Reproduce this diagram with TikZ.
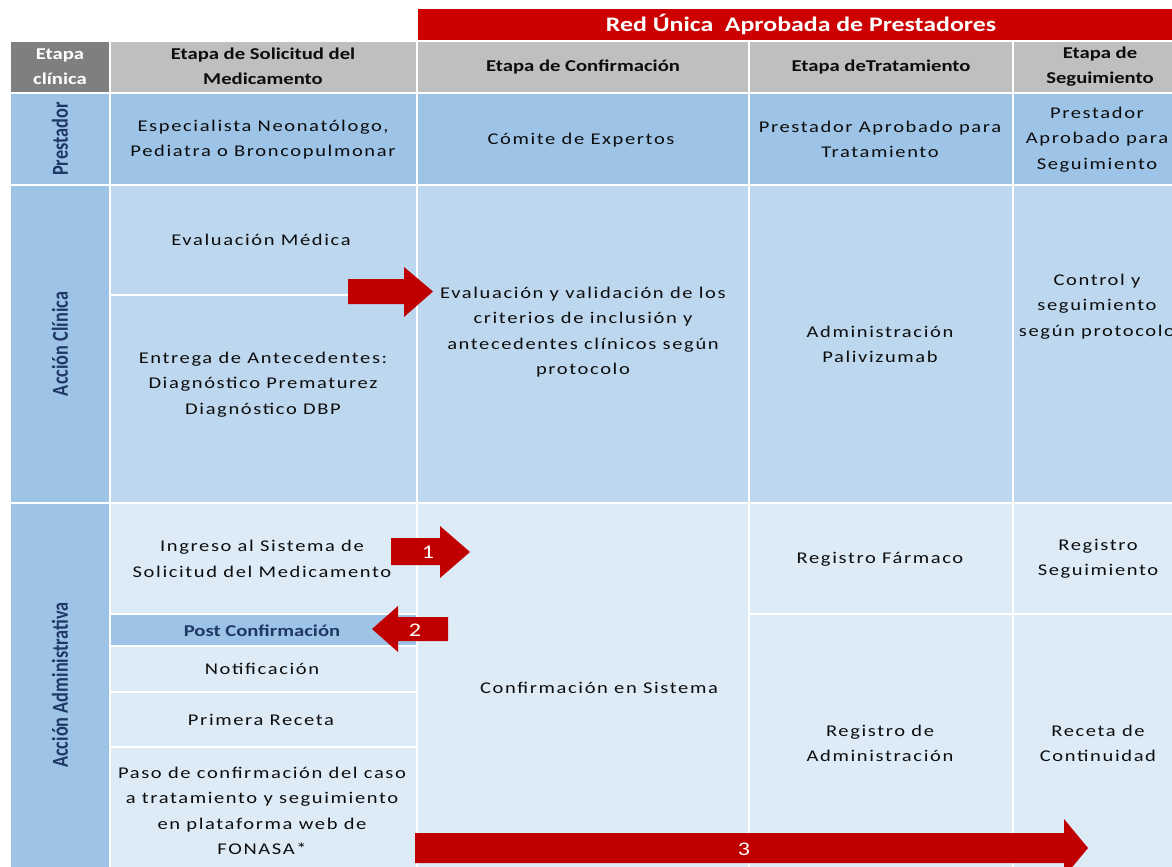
\documentclass[tikz,border=0pt]{standalone}
\usepackage{fontspec}
\setmainfont{Carlito}[FakeStretch=1.25]
\newfontfamily\bodyf{Carlito}[FakeStretch=1.25,LetterSpace=10]
\newfontfamily\rotf{Carlito}
\definecolor{hdrgray}{HTML}{BFBFBF}
\definecolor{etgray}{HTML}{7F7F7F}
\definecolor{blueA}{HTML}{9DC3E6}
\definecolor{blueB}{HTML}{BDD7EE}
\definecolor{blueC}{HTML}{DDEBF7}
\definecolor{arrred}{HTML}{C00000}
\definecolor{banred}{HTML}{CC0000}
\definecolor{navy}{HTML}{1F3864}
\definecolor{ink}{HTML}{0D0D0D}
\tikzset{
  body/.style={align=center,inner sep=0pt,text=ink,font=\bodyf\fontsize{12.3}{19}\selectfont},
  head/.style={align=center,inner sep=0pt,text=ink,font=\bfseries\fontsize{12.4}{19}\selectfont},
  rowlab/.style={rotate=90,inner sep=0pt,text=navy,font=\rotf\bfseries\fontsize{13.7}{16}\selectfont},
  arrlab/.style={inner sep=0pt,text=white,font=\fontsize{14.5}{16}\selectfont},
}
\begin{document}
\begin{tikzpicture}[x=0.75pt,y=-0.75pt]
\useasboundingbox (0,0) rectangle (1172,867);
\clip (0,0) rectangle (1172,867);
% banner
\fill[banred] (418,9) rectangle (1190,40);
\node[inner sep=0pt,text=white,font=\bfseries\fontsize{15.5}{18}\selectfont] (banner) at (801,24) {Red Única\ \ Aprobada de Prestadores};
% header row
\fill[etgray] (11,42) rectangle (109,92);
\fill[hdrgray] (111,42) rectangle (416,92);
\fill[hdrgray] (418,42) rectangle (748,92);
\fill[hdrgray] (750,42) rectangle (1012,92);
\fill[hdrgray] (1014,42) rectangle (1190,92);
% Prestador row
\fill[blueA] (11,94) rectangle (109,184);
\fill[blueA] (111,94) rectangle (416,184);
\fill[blueA] (418,94) rectangle (748,184);
\fill[blueA] (750,94) rectangle (1012,184);
\fill[blueA] (1014,94) rectangle (1190,184);
% Accion clinica row
\fill[blueA] (11,186) rectangle (109,502);
\fill[blueB] (111,186) rectangle (416,294);
\fill[blueB] (111,296) rectangle (416,502);
\fill[blueB] (418,186) rectangle (748,502);
\fill[blueB] (750,186) rectangle (1012,502);
\fill[blueB] (1014,186) rectangle (1190,502);
% Accion administrativa row
\fill[blueA] (11,504) rectangle (109,880);
\fill[blueC] (111,504) rectangle (416,613);
\fill[blueA] (111,615) rectangle (416,645);
\fill[blueC] (111,647) rectangle (416,691);
\fill[blueC] (111,693) rectangle (416,746);
\fill[blueC] (111,748) rectangle (416,880);
\fill[blueC] (418,504) rectangle (748,880);
\fill[blueC] (750,504) rectangle (1012,613);
\fill[blueC] (750,615) rectangle (1012,880);
\fill[blueC] (1014,504) rectangle (1190,613);
\fill[blueC] (1014,615) rectangle (1190,880);
% header texts
\node[head,text=white] (hEtapa) at (60,67) {Etapa\\clínica};
\node[head] (hSol) at (263,66.5) {Etapa de Solicitud del\\Medicamento};
\node[head] (hConf) at (583,67) {Etapa de Confirmación};
\node[head] (hTrat) at (881,67) {Etapa deTratamiento};
\node[head] (hSeg) at (1100,66.5) {Etapa de\\Seguimiento};
% row labels
\node[rowlab] (lPrest) at (60,139) {\scalebox{1}[1.25]{Prestador}};
\node[rowlab] (lClin) at (60,344) {\scalebox{1}[1.25]{Acción Clínica}};
\node[rowlab] (lAdm) at (60,685) {\scalebox{1}[1.25]{Acción Administrativa}};
% Prestador row texts
\node[body] (pSol) at (263,139.5) {Especialista Neonatólogo,\\Pediatra o Broncopulmonar};
\node[body] (pConf) at (581,140) {Cómite de Expertos};
\node[body] (pTrat) at (880,139.5) {Prestador Aprobado para\\Tratamiento};
\node[body] (pSeg) at (1097,139.5) {Prestador\\Aprobado para\\Seguimiento};
% Accion clinica texts
\node[body] (cEval) at (261,240) {Evaluación Médica};
\node[body] (cEnt) at (263,384.5) {Entrega de Antecedentes:\\Diagnóstico Prematurez\\Diagnóstico DBP};
\node[body] (cConf) at (583,332) {Evaluación y validación de los\\criterios de inclusión y\\antecedentes clínicos según\\protocolo};
\node[body] (cTrat) at (880,344.5) {Administración\\Palivizumab};
\node[body] (cSeg) at (1097,306.5) {Control y\\seguimiento\\según protocolo};
% Accion administrativa texts
\node[body] (aIng) at (262,559) {Ingreso al Sistema de\\Solicitud del Medicamento};
\node[head,text=navy] (aPost) at (262,631) {Post Confirmación};
\node[body] (aNot) at (262,669) {Notificación};
\node[body] (aRec) at (261,720) {Primera Receta};
\node[body] (aPaso) at (262,811) {Paso de confirmación del caso\\a tratamiento y seguimiento\\en plataforma web de\\FONASA*};
\node[body] (aConf) at (599,688) {Confirmación en Sistema};
\node[body] (aFar) at (880,559) {Registro Fármaco};
\node[body] (aRSeg) at (1098,559) {Registro\\Seguimiento};
\node[body] (aAdm) at (880,743.5) {Registro de\\Administración};
\node[body] (aCont) at (1098,743.5) {Receta de\\Continuidad};
% block arrows
\fill[arrred] (348,279) -- (404,279) -- (404,267) -- (433,291.5) -- (404,317) -- (404,304) -- (348,304) -- cycle;
\fill[arrred] (391,538) -- (440,538) -- (440,526) -- (470,552) -- (440,578) -- (440,565) -- (391,565) -- cycle;
\node[arrlab] (n1) at (428,552) {1};
\fill[arrred] (448,617) -- (398,617) -- (398,606) -- (372,629) -- (398,652) -- (398,641) -- (448,641) -- cycle;
\node[arrlab] (n2) at (415,630) {2};
\fill[arrred] (415,833) -- (1064,833) -- (1064,819) -- (1088,848) -- (1064,877) -- (1064,863) -- (415,863) -- cycle;
\node[arrlab] (n3) at (744,849) {3};
\end{tikzpicture}
\end{document}
